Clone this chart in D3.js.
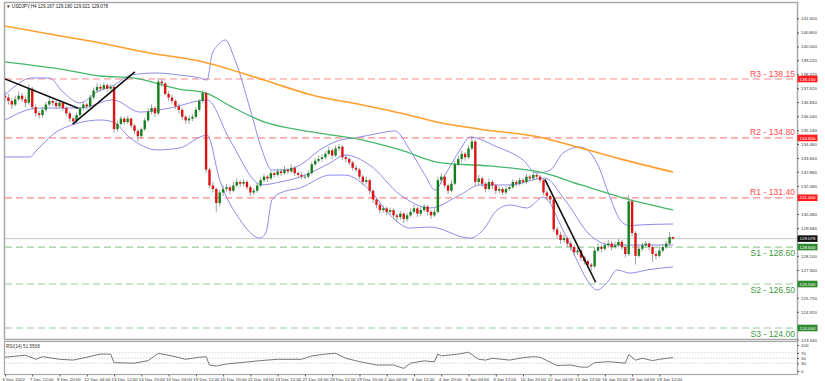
<!DOCTYPE html>
<meta charset="utf-8">
<script src="https://cdn.jsdelivr.net/npm/d3@7"></script>
<style>
body { margin: 0; background: #fff; }
text { font-family: "Liberation Sans", Arial, sans-serif; }
</style>
<body>
<script>

var width = 825
var height = 381

// H4 candles, open = previous close
var firstOpen = 137.20
var closes = [
137.10,136.90,136.70,137.00,137.20,137.00,136.80,137.60,136.55,136.20,
136.10,136.40,136.70,136.90,136.80,136.60,136.80,136.50,136.20,135.90,
135.75,136.10,136.50,136.70,136.60,137.10,137.50,137.70,137.60,137.80,
137.60,137.70,135.30,135.60,135.90,135.70,135.90,135.50,135.20,134.90,
135.30,135.80,136.30,136.50,136.20,138.00,137.90,137.30,137.10,136.90,
136.60,136.40,136.00,135.80,135.90,136.00,136.40,136.90,137.35,133.00,
132.10,131.90,131.10,131.70,131.90,132.00,131.80,132.10,132.30,132.20,
132.30,132.00,131.70,131.80,132.10,132.40,132.60,132.50,132.80,132.70,
132.90,132.80,133.00,132.90,133.10,132.80,132.70,132.60,132.60,132.80,
133.30,133.50,133.60,133.70,133.90,134.10,133.80,134.20,134.30,133.70,
133.60,133.40,133.10,133.00,132.60,132.30,132.40,131.80,131.30,131.00,
130.70,130.80,130.60,130.70,130.40,130.30,130.50,130.20,130.40,130.60,
130.80,130.50,130.70,130.90,130.60,130.40,130.60,132.40,132.60,132.10,
131.80,132.20,133.30,133.60,133.90,133.70,134.20,134.60,132.30,132.50,
132.20,131.90,132.30,132.10,131.80,131.90,131.70,131.90,132.00,132.30,
132.20,132.40,132.30,132.60,132.50,132.70,132.60,132.40,131.70,131.50,
131.30,129.60,129.30,129.00,129.10,128.80,128.60,128.30,128.40,128.00,
127.80,127.60,127.50,128.40,128.60,128.50,128.70,128.80,128.60,128.70,
128.90,128.60,128.20,131.20,129.40,128.10,128.50,128.70,128.80,128.60,
128.20,128.10,128.40,128.60,128.80,129.17,129.078]
var highs = [
137.45,137.30,137.05,137.20,137.45,137.35,137.15,137.85,137.70,136.70,
136.35,136.55,136.85,137.10,137.00,136.95,136.95,136.90,136.60,136.30,
136.00,136.25,136.60,136.85,136.80,137.25,137.65,137.90,137.85,137.95,
137.90,137.85,137.80,135.80,136.05,136.00,136.05,135.95,135.60,135.30,
135.40,135.95,136.50,136.70,136.60,138.20,138.15,138.00,137.45,137.25,
137.00,136.75,136.50,136.10,136.05,136.15,136.55,137.00,137.50,137.45,
133.10,132.30,132.00,131.85,132.10,132.20,132.10,132.30,132.50,132.40,
132.45,132.40,132.10,131.95,132.25,132.55,132.75,132.70,132.95,132.90,
133.05,133.05,133.20,133.10,133.30,133.20,132.90,132.85,132.75,132.95,
133.45,133.65,133.80,133.85,134.05,134.30,134.20,134.35,134.45,134.40,
133.85,133.70,133.50,133.25,133.10,132.70,132.60,132.50,131.90,131.40,
131.15,130.95,130.90,130.85,130.80,130.50,130.65,130.60,130.55,130.80,
131.00,130.90,130.90,131.05,131.00,130.70,130.80,132.60,132.80,132.70,
132.20,132.40,133.50,133.80,134.10,134.00,134.40,134.90,134.70,132.70,
132.60,132.30,132.50,132.40,132.20,132.05,132.00,132.05,132.15,132.45,
132.40,132.55,132.50,132.75,132.70,132.90,132.80,132.70,132.50,131.85,
131.60,131.40,129.75,129.45,129.30,129.20,128.95,128.70,128.60,128.50,
128.10,127.90,127.70,128.55,128.80,128.75,128.90,129.00,128.95,128.90,
129.05,129.00,128.70,131.55,131.30,129.50,128.70,128.85,128.95,128.90,
128.70,128.35,128.55,128.75,128.95,129.45,129.18]
var lows = [
136.90,136.70,136.45,136.60,136.90,136.85,136.55,136.70,136.40,136.00,
135.90,135.95,136.30,136.60,136.60,136.45,136.50,136.35,136.05,135.70,
135.60,135.65,136.00,136.35,136.40,136.50,137.00,137.40,137.45,137.50,
137.45,137.50,135.10,135.15,135.50,135.55,135.60,135.35,135.00,134.60,
134.75,135.20,135.70,136.15,136.00,136.10,137.70,137.20,136.90,136.75,
136.45,136.20,135.80,135.60,135.60,135.75,135.90,136.30,136.80,132.80,
131.95,131.70,130.60,130.90,131.50,131.75,131.60,131.70,132.00,132.00,
132.05,131.85,131.50,131.55,131.70,132.00,132.30,132.30,132.40,132.55,
132.60,132.65,132.70,132.75,132.80,132.65,132.55,132.45,132.45,132.50,
132.70,133.20,133.40,133.45,133.60,133.80,133.60,133.70,134.05,133.55,
133.40,133.25,132.95,132.85,132.45,132.10,132.15,131.60,131.10,130.80,
130.50,130.55,130.40,130.45,130.20,130.00,130.15,129.95,130.05,130.30,
130.50,130.30,130.35,130.60,130.40,130.20,130.30,130.50,132.20,131.95,
131.60,131.70,132.10,133.20,133.40,133.50,133.60,134.10,132.10,132.10,
132.00,131.70,131.80,131.90,131.60,131.65,131.55,131.60,131.80,131.90,
132.05,132.10,132.15,132.20,132.35,132.40,132.45,132.25,131.55,131.30,
131.10,129.45,129.10,128.80,128.85,128.60,128.40,128.10,128.15,127.80,
127.60,127.40,127.25,127.40,128.30,128.30,128.40,128.55,128.40,128.50,
128.60,128.45,128.00,128.10,129.20,127.60,128.00,128.35,128.60,128.40,
127.75,127.90,128.00,128.30,128.50,128.70,129.02]

// indicator lines: [bar, price]
var ma200 = [[0,141.16],[13,140.71],[28,140.20],[42.5,139.63],[57,139.17],[76,138.09],[90,137.24],[105,136.67],[116,136.22],[128,135.65],[139,135.31],[158,134.80],[169,134.23],[180.5,133.61],[196,132.86]]
var ma100 = [[0,139.12],[18,138.66],[28,138.32],[37.6,138.21],[51,137.58],[59,137.35],[66,136.62],[76,135.71],[90,135.14],[105,134.68],[116,134.12],[128,133.38],[142,133.21],[158,132.81],[169,132.13],[180.5,131.44],[196,130.71]]
var bbUpper = [[0,137.24],[8,138.21],[13,138.21],[17,137.41],[22,136.79],[27,137.41],[32,137.81],[37,138.38],[44.6,138.49],[51,138.38],[57,138.21],[59.3,138.09],[60.7,139.51],[62.5,140.08],[64.6,140.37],[67.5,139.23],[72,136.39],[75.4,134.12],[78.3,132.98],[82,132.98],[86.6,133.26],[92.4,134.12],[98.3,134.68],[102.7,134.80],[110,135.08],[114.4,135.20],[118.8,134.12],[123.2,132.70],[126.2,131.84],[129.1,132.70],[133.5,134.12],[136.4,134.85],[144.4,134.29],[152,133.55],[156,132.81],[160,132.98],[163.7,133.94],[168.7,134.29],[173.7,133.38],[177.5,131.44],[180.5,130.14],[183.4,129.80],[185.4,129.85],[196,129.91]]
var bbMiddle = [[0,135.82],[10,136.50],[22,136.50],[31.7,136.96],[39.6,136.27],[48.4,136.50],[59.3,136.96],[66,134.68],[75.4,132.13],[80.7,132.30],[86.6,132.58],[95.4,133.38],[99.8,133.83],[107,133.26],[116,131.56],[124.7,130.82],[133.5,131.56],[139.4,132.13],[148,132.13],[158.4,132.52],[164.3,131.27],[171.7,129.28],[177.5,128.72],[186.3,128.72],[196,128.72]]
var bbLower = [[0,133.72],[7.3,133.72],[9.4,134.12],[16,135.25],[28,135.82],[31.7,135.71],[36.7,134.80],[44.6,134.12],[51.3,134.23],[57.2,134.85],[59.3,134.97],[63,132.41],[69,130.14],[74.8,129.11],[76.6,129.45],[78.3,131.27],[80.7,131.67],[86.6,131.96],[95.4,132.69],[99.8,132.69],[107,131.84],[113,130.42],[118.8,129.68],[124.7,129.74],[136.4,129.11],[140.3,129.57],[144.4,130.71],[148.2,130.99],[153.2,130.82],[157.9,131.44],[163.7,129.57],[167.8,127.86],[170.8,126.73],[173.7,126.16],[176.6,126.56],[179.6,127.30],[183.4,127.12],[188.4,127.30],[196,127.47]]
var rsi = [[0,53],[6,61],[9,45],[11,55],[16,45],[20,42],[24,53],[28,65],[31,65],[32,32],[38,30],[42,40],[45,68],[49,58],[53,45],[57,53],[59,55],[60,23],[62,19],[65,27],[69,32],[75,40],[80,45],[87,45],[90,58],[94,65],[97,68],[100,49],[104,36],[109,23],[114,23],[117,10],[119,30],[123,39],[126,35],[127,65],[128,58],[133,65],[136,72],[139,45],[141,42],[143,49],[148,42],[152,51],[155,55],[157,53],[159,40],[162,21],[166,23],[169,15],[171,15],[173,32],[177,36],[178,35],[182,30],[183,63],[185,42],[187,49],[190,40],[192,45],[196,51.55]]

var trendLines = [[[0,138.15],[21.5,136.49]], [[19.85,135.59],[38.1,138.56]], [[158.4,132.45],[173.3,126.6]]]

var levelNames = ["R3","R2","R1","S1","S2","S3"]
var levelValues = [138.15, 134.80, 131.40, 128.60, 126.50, 124.00]
var currentPrice = 129.078

var priceTicks = ["141.600","140.800","140.000","139.220","138.420","137.620","136.840","136.040","135.240","134.460","133.660","132.880","132.080","131.280","130.480","129.680","128.900","128.100","127.300","126.520","125.720","124.920","124.140","123.340"]
var rsiTicks = [100, 70, 50, 30, 0]
var timeLabels = ["6 Dec 2022","7 Dec 12:00","8 Dec 20:00","12 Dec 04:00","13 Dec 12:00","14 Dec 20:00","16 Dec 04:00","19 Dec 12:00","20 Dec 20:00","22 Dec 04:00","23 Dec 12:00","27 Dec 04:00","28 Dec 12:00","29 Dec 20:00","2 Jan 04:00","3 Jan 12:00","4 Jan 20:00","6 Jan 04:00","9 Jan 12:00","10 Jan 20:00","12 Jan 04:00","13 Jan 12:00","16 Jan 20:00","18 Jan 04:00","19 Jan 12:00"]

var x = d3.scaleLinear().domain([0, 196]).range([5, 673])
var y = d3.scaleLinear().domain([124.00, 138.15]).range([328, 79])
var yr = d3.scaleLinear().domain([0, 100]).range([371, 345])

var svg = d3.select("body").append("svg")
            .attr("width", width)
            .attr("height", height)
            .style("display", "block")

svg.append("defs").append("clipPath").attr("id", "clip")
   .append("rect").attr("x", 5).attr("y", 3.5).attr("width", 792).attr("height", 335)

svg.append("rect").attr("x", 4.5).attr("y", 2.5).attr("width", 793).attr("height", 337)
   .attr("fill", "none").attr("stroke", "#a8a8a8").attr("stroke-width", 1.5)

var plot = svg.append("g").attr("clip-path", "url(#clip)")

// current price line
plot.append("line").attr("x1", 5).attr("x2", 797)
    .attr("y1", y(currentPrice)).attr("y2", y(currentPrice))
    .attr("stroke", "#c8c8c8").attr("stroke-width", 1)

// support / resistance
plot.selectAll(".lvl").data(levelValues).enter().append("line")
    .attr("x1", 5).attr("x2", 797)
    .attr("y1", function(d) { return y(d) }).attr("y2", function(d) { return y(d) })
    .attr("stroke", function(d, i) { return levelNames[i][0] == "R" ? "#ff8c8c" : "#9acb9a" })
    .attr("stroke-width", 1.2)
    .attr("stroke-dasharray", "7,4")

var curve = d3.line().x(function(d) { return x(d[0]) }).y(function(d) { return y(d[1]) }).curve(d3.curveMonotoneX)

;[bbUpper, bbMiddle, bbLower].forEach(function(s) {
  plot.append("path").attr("d", curve(s)).attr("fill", "none")
      .attr("stroke", "#8c8ce8").attr("stroke-width", 1)
})
plot.append("path").attr("d", curve(ma100)).attr("fill", "none").attr("stroke", "#43b86b").attr("stroke-width", 1.3)
plot.append("path").attr("d", curve(ma200)).attr("fill", "none").attr("stroke", "#ff9f2e").attr("stroke-width", 1.6)

// candles
var bars = closes.map(function(c, i) {
  return { i: i, o: i == 0 ? firstOpen : closes[i - 1], h: highs[i], l: lows[i], c: c }
})
var cg = plot.selectAll(".candle").data(bars).enter().append("g")
cg.append("line")
  .attr("x1", function(d) { return x(d.i) }).attr("x2", function(d) { return x(d.i) })
  .attr("y1", function(d) { return y(d.h) }).attr("y2", function(d) { return y(d.l) })
  .attr("stroke", "#8a8a8a").attr("stroke-width", 0.8)
cg.append("rect")
  .attr("x", function(d) { return x(d.i) - 1.2 })
  .attr("width", 2.4)
  .attr("y", function(d) { return y(Math.max(d.o, d.c)) })
  .attr("height", function(d) { return Math.max(0.8, Math.abs(y(d.o) - y(d.c))) })
  .attr("fill", function(d) { return d.c >= d.o ? "#17801e" : "#dc1414" })

var seg = d3.line().x(function(d) { return x(d[0]) }).y(function(d) { return y(d[1]) })
trendLines.forEach(function(t) {
  plot.append("path").attr("d", seg(t)).attr("stroke", "#111").attr("stroke-width", 1.6).attr("fill", "none")
})

// level captions
svg.selectAll(".lvltext").data(levelValues).enter().append("text")
   .attr("x", 795)
   .attr("y", function(d, i) { return levelNames[i][0] == "R" ? y(d) - 2.5 : y(d) + 9.3 })
   .attr("text-anchor", "end")
   .attr("font-size", "8.6px")
   .attr("fill", function(d, i) { return levelNames[i][0] == "R" ? "#ff4b4b" : "#3d9a3d" })
   .text(function(d, i) { return levelNames[i] + " - " + d.toFixed(2) })

svg.append("text").attr("x", 6).attr("y", 8).attr("font-size", "4.6px").attr("fill", "#222")
   .text("\u25BC USDJPY,H4  129.167 129.180 129.021 129.078")

// price markers (they cover the axis labels right under them)
var markers = levelValues.concat([currentPrice])
var shown = priceTicks.map(Number).filter(function(t) {
  return markers.every(function(m) { return Math.abs(y(t) - y(m)) > 4.5 })
})

var ay = svg.append("g").attr("transform", "translate(797,0)")
            .call(d3.axisRight(y).tickValues(shown).tickFormat(d3.format(".3f")).tickSize(2).tickSizeOuter(0).tickPadding(2))
ay.select(".domain").remove()
ay.selectAll("line").attr("stroke", "#555")
ay.selectAll("text").attr("font-size", "4.4px").attr("fill", "#333")

svg.selectAll(".mk").data(markers).enter().append("rect")
   .attr("x", 797.5).attr("y", function(d) { return y(d) - 3.3 })
   .attr("width", 20).attr("height", 6.6)
   .attr("fill", function(d, i) { return i == 6 ? "#111" : (i < 3 ? "#ff1e1e" : "#2f8a2f") })
svg.selectAll(".mkt").data(markers).enter().append("text")
   .attr("x", 799.5).attr("y", function(d) { return y(d) + 1.6 })
   .attr("font-size", "4.4px").attr("fill", "#fff")
   .text(function(d) { return d.toFixed(3) })

// RSI panel
svg.append("rect").attr("x", 4.5).attr("y", 341.5).attr("width", 793).attr("height", 33)
   .attr("fill", "none").attr("stroke", "#a8a8a8").attr("stroke-width", 1.2)
svg.selectAll(".rl").data([70, 50, 30]).enter().append("line")
   .attr("x1", 5).attr("x2", 797)
   .attr("y1", function(d) { return yr(d) }).attr("y2", function(d) { return yr(d) })
   .attr("stroke", "#c4c4c4").attr("stroke-width", 0.7).attr("stroke-dasharray", "1.5,1.5")
var rline = d3.line().x(function(d) { return x(d[0]) }).y(function(d) { return yr(d[1]) })
svg.append("path").attr("d", rline(rsi)).attr("fill", "none").attr("stroke", "#777").attr("stroke-width", 1)
svg.append("text").attr("x", 6).attr("y", 348).attr("font-size", "4.6px").attr("fill", "#333")
   .text("RSI(14) 51.5508")
var ar = svg.append("g").attr("transform", "translate(797,0)")
            .call(d3.axisRight(yr).tickValues(rsiTicks).tickSize(2).tickSizeOuter(0).tickPadding(2))
ar.select(".domain").remove()
ar.selectAll("line").attr("stroke", "#555")
ar.selectAll("text").attr("font-size", "4.4px").attr("fill", "#333")

// time axis
var ax = svg.append("g").attr("transform", "translate(0,374.5)")
            .call(d3.axisBottom(x).tickValues(d3.range(0, 193, 8)).tickFormat(function(d, i) { return timeLabels[i] }).tickSize(2).tickSizeOuter(0).tickPadding(1))
ax.select(".domain").remove()
ax.selectAll("line").attr("stroke", "#555")
ax.selectAll("text").attr("font-size", "4.4px").attr("fill", "#333").attr("text-anchor", "start").attr("dx", "-3")

</script>
</body>
